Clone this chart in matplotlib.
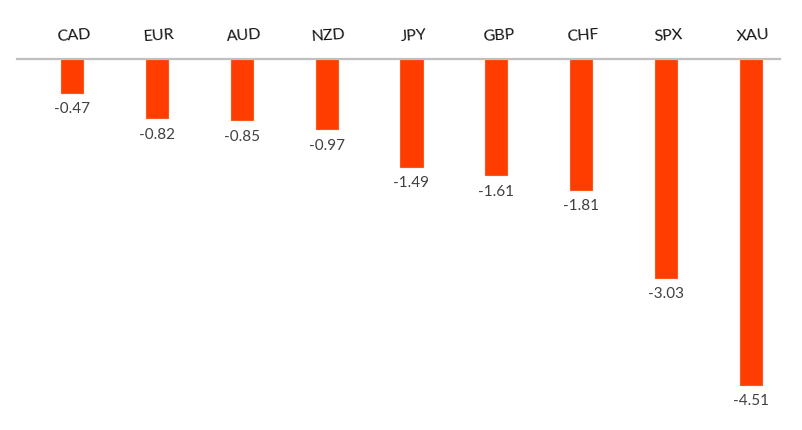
import matplotlib
matplotlib.use("Agg")
import matplotlib.pyplot as plt

categories = ["CAD", "EUR", "AUD", "NZD", "JPY", "GBP", "CHF", "SPX", "XAU"]
values = [-0.47, -0.82, -0.85, -0.97, -1.49, -1.61, -1.81, -3.03, -4.51]

plt.rcParams['font.family'] = ['Lato', 'DejaVu Sans']

W, H = 803, 430
fig = plt.figure(figsize=(W / 100, H / 100), dpi=100)
left_px, right_px, top_px, bot_px = 17, 780, 59, 413
ax = fig.add_axes([left_px / W, 1 - bot_px / H, (right_px - left_px) / W, (bot_px - top_px) / H])

x = list(range(len(categories)))
ax.bar(x, values, width=0.26, color='#FF3D00', edgecolor='#F9591C', linewidth=0.8, zorder=2)

ax.set_xlim(-0.648, 8.342)
ax.set_ylim(-4.9, 0)
for s in ['left', 'right', 'bottom']:
    ax.spines[s].set_visible(False)
ax.spines['top'].set_color('#BFBFBF')
ax.spines['top'].set_linewidth(1.6)
ax.set_xticks([])
ax.set_yticks([])

for xi, c, v in zip(x, categories, values):
    ax.annotate(c, (xi, 0), xytext=(2, 23), textcoords='offset pixels',
                ha='center', va='center', fontsize=11.5, color='#111111', rotation=4)
    ax.annotate(f"{v:.2f}", (xi, v), xytext=(0, -16.5), textcoords='offset pixels',
                ha='center', va='center', fontsize=11, color='#404040')

fig.savefig('out.png', dpi=100)
